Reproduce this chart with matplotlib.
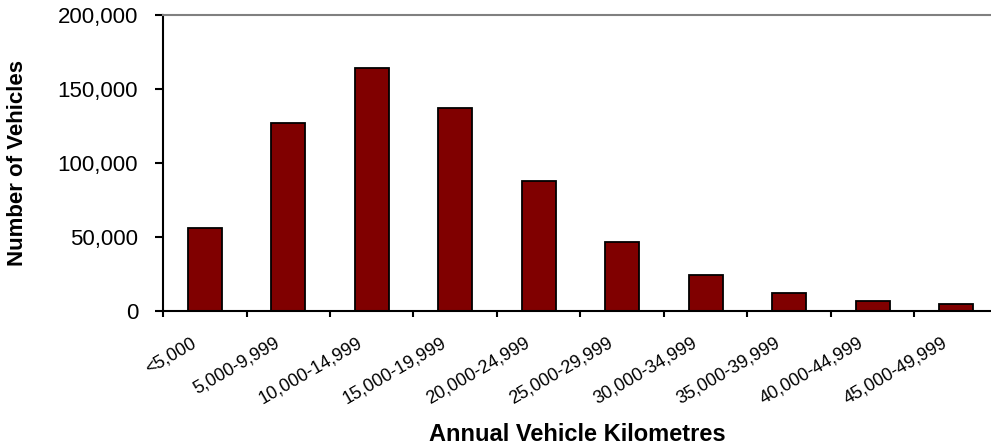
import numpy as np
import matplotlib
matplotlib.use('Agg')
import matplotlib.pyplot as plt
import matplotlib.transforms as mtransforms
from matplotlib.ticker import FuncFormatter, MultipleLocator

plt.rcParams['font.family'] = ['Liberation Sans', 'DejaVu Sans']

# --- dati ---
categories = ['<5,000', '5,000-9,999', '10,000-14,999', '15,000-19,999',
              '20,000-24,999', '25,000-29,999', '30,000-34,999',
              '35,000-39,999', '40,000-44,999', '45,000-49,999']
vehicles = [56100, 126600, 164100, 137200, 87700, 46700, 24000, 11900, 6900, 4500]

fig = plt.figure(figsize=(9.91, 4.48), dpi=100)
ax = fig.add_axes([0.1645, 0.3058, 0.8425, 0.6618])

x = np.arange(len(categories)) + 0.5
ax.bar(x, vehicles, width=0.41, color='#800000', edgecolor='black', linewidth=1.3)

ax.set_xlim(0, len(categories))
ax.set_ylim(0, 200000)

# spines
ax.spines['left'].set_linewidth(1.5)
ax.spines['bottom'].set_linewidth(1.5)
ax.spines['top'].set_color('#808080')
ax.spines['top'].set_linewidth(1.5)
ax.spines['right'].set_visible(False)

# asse y
ax.yaxis.set_major_locator(MultipleLocator(50000))
ax.yaxis.set_major_formatter(FuncFormatter(lambda v, p: f'{int(v):,}'))
ax.tick_params(axis='y', direction='out', length=6, width=1.5, pad=12, labelsize=16)

# asse x: etichette al centro, tacche ai bordi
ax.set_xticks(x)
ax.set_xticklabels(categories, rotation=30, ha='right', fontsize=13)
ax.set_xticks(np.arange(len(categories) + 1), minor=True)
ax.tick_params(axis='x', which='major', length=0, pad=17)
ax.tick_params(axis='x', which='minor', direction='out', length=4.5, width=1.5)
offset = mtransforms.ScaledTranslation(-6 / 100, 0, fig.dpi_scale_trans)
for lab in ax.get_xticklabels():
    lab.set_transform(lab.get_transform() + offset)

ax.set_ylabel('Number of Vehicles', fontsize=16, fontweight='bold')
ax.yaxis.set_label_coords(-0.162, 0.5)
fig.text(0.583, 0.03, 'Annual Vehicle Kilometres', fontsize=17, fontweight='bold',
         ha='center', va='center')

fig.savefig('out.png', dpi=100)
